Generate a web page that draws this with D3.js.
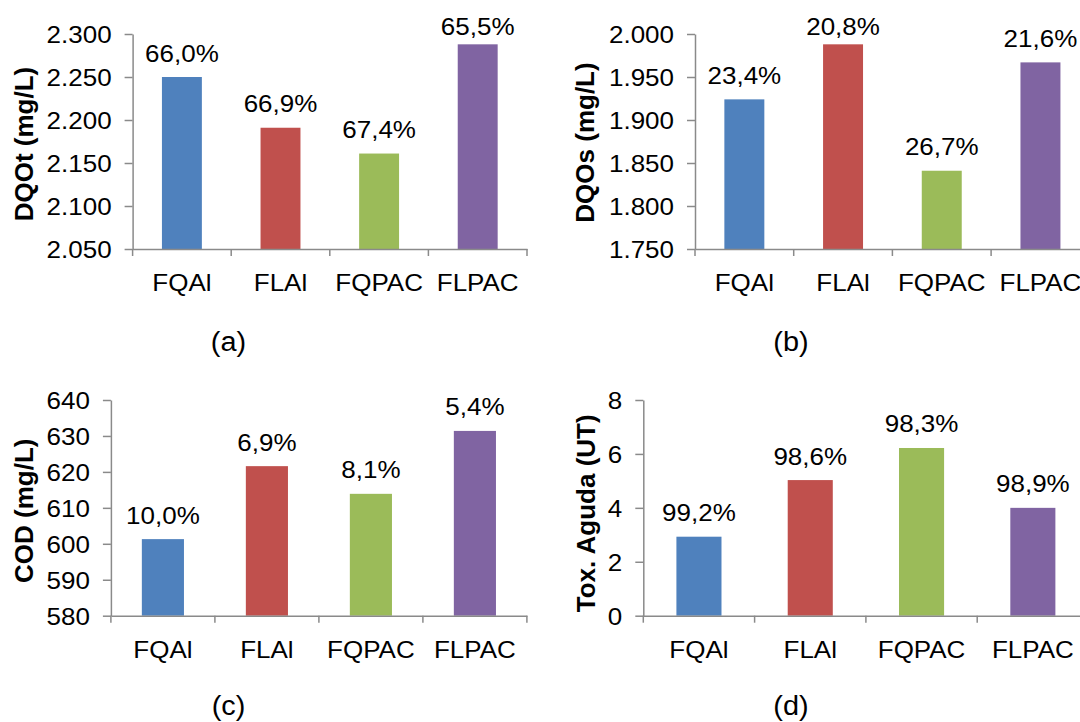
<!DOCTYPE html>
<html><head><meta charset="utf-8">
<script src="https://cdn.jsdelivr.net/npm/d3@7"></script>
<style>html,body{margin:0;padding:0;background:#fff;overflow:hidden}</style>
</head><body>
<svg id="chart" width="1080" height="722"></svg>
<script>
// ---- data ----
const categories = ["FQAl", "FLAl", "FQPAC", "FLPAC"];
const colors = ["#4F81BD", "#C0504D", "#9BBB59", "#8064A2"];

const dqotValues = [2250, 2191, 2161, 2288];
const dqotLabels = ["66,0%", "66,9%", "67,4%", "65,5%"];
const dqotTicks = [2050, 2100, 2150, 2200, 2250, 2300];

const dqosValues = [1924, 1988, 1841, 1967];
const dqosLabels = ["23,4%", "20,8%", "26,7%", "21,6%"];
const dqosTicks = [1750, 1800, 1850, 1900, 1950, 2000];

const codValues = [601.3, 621.6, 613.9, 631.4];
const codLabels = ["10,0%", "6,9%", "8,1%", "5,4%"];
const codTicks = [580, 590, 600, 610, 620, 630, 640];

const toxValues = [2.93, 5.03, 6.22, 4.0];
const toxLabels = ["99,2%", "98,6%", "98,3%", "98,9%"];
const toxTicks = [0, 2, 4, 6, 8];

const titles = ["DQOt (mg/L)", "DQOs (mg/L)", "COD (mg/L)", "Tox. Aguda (UT)"];
const captions = ["(a)", "(b)", "(c)", "(d)"];

// ---- layout ----
const layouts = [
  {x0: 132.6, step: 98.6, yb: 249, yt: 34, tx: 32.7, ty: 144, cx: 228.5, cy: 351},
  {x0: 695.0, step: 98.7, yb: 249, yt: 34, tx: 594.4, ty: 142.5, cx: 791, cy: 351},
  {x0: 110.9, step: 104.0, yb: 615.7, yt: 400, tx: 32.7, ty: 510.8, cx: 228.5, cy: 715},
  {x0: 643.3, step: 111.3, yb: 615.7, yt: 400, tx: 595, ty: 513.3, cx: 791, cy: 715}
];

const panels = [
  {values: dqotValues, labels: dqotLabels, ticks: dqotTicks},
  {values: dqosValues, labels: dqosLabels, ticks: dqosTicks},
  {values: codValues, labels: codLabels, ticks: codTicks},
  {values: toxValues, labels: toxLabels, ticks: toxTicks}
];

const FONT = "'Liberation Sans', Arial, sans-serif";
const SX = 1.07;
const FS = 24.3;
const AXIS = "#8a8a8a";
const locale = d3.formatLocale({decimal: ",", thousands: ".", grouping: [3], currency: ["", ""]});
const fmt = locale.format(",d");

const svg = d3.select("#chart");

function label(g, x, y, str, size) {
  return g.append("text")
    .attr("transform", `translate(${x},${y}) scale(${SX},1)`)
    .attr("text-anchor", "middle")
    .attr("font-family", FONT)
    .attr("font-size", size || FS)
    .attr("fill", "#000")
    .text(str);
}

panels.forEach((p, i) => {
  const L = layouts[i];
  const g = svg.append("g");
  const x = d3.scaleBand().domain(categories).range([L.x0, L.x0 + L.step * categories.length]).padding(0);
  const y = d3.scaleLinear().domain([p.ticks[0], p.ticks[p.ticks.length - 1]]).range([L.yb, L.yt]);
  const bw = x.bandwidth() * 0.405;

  // bars
  g.selectAll("rect.bar").data(p.values).join("rect")
    .attr("class", "bar")
    .attr("x", (d, j) => x(categories[j]) + x.bandwidth() / 2 - bw / 2)
    .attr("y", d => y(d))
    .attr("width", bw)
    .attr("height", d => L.yb - y(d))
    .attr("fill", (d, j) => colors[j]);

  // y axis
  const ya = g.append("g").attr("transform", `translate(${L.x0},0)`)
    .call(d3.axisLeft(y).tickValues(p.ticks).tickFormat(fmt).tickSize(8).tickSizeOuter(0));
  ya.select(".domain").attr("stroke", AXIS).attr("stroke-width", 1.5);
  ya.selectAll(".tick line").attr("stroke", AXIS).attr("stroke-width", 1.5);
  ya.selectAll(".tick text")
    .attr("x", -21 / SX).attr("dy", "0.36em")
    .attr("transform", `scale(${SX},1)`)
    .attr("font-family", FONT).attr("font-size", FS).attr("fill", "#000");

  // x axis (category labels)
  const xa = g.append("g").attr("transform", `translate(0,${L.yb})`)
    .call(d3.axisBottom(x).tickSize(0).tickSizeOuter(0).tickPadding(0));
  xa.select(".domain").attr("stroke", AXIS).attr("stroke-width", 1.5);
  xa.selectAll(".tick text").each(function() {
    d3.select(this).attr("y", null).attr("dy", null)
      .attr("transform", `translate(0,42) scale(${SX},1)`)
      .attr("font-family", FONT).attr("font-size", FS).attr("fill", "#000");
  });
  // boundary tick marks between categories
  const bounds = categories.map(c => x(c)).concat([x.range()[1]]);
  g.selectAll("line.bt").data(bounds).join("line")
    .attr("class", "bt")
    .attr("x1", d => d).attr("x2", d => d)
    .attr("y1", L.yb).attr("y2", L.yb + 7)
    .attr("stroke", AXIS).attr("stroke-width", 1.5);

  // value labels
  p.values.forEach((v, j) => {
    const cx = x(categories[j]) + x.bandwidth() / 2;
    const by = Math.max(y(v) - 15.5, L.yt + 0.5);
    label(g, cx, by, p.labels[j]);
  });

  // axis title
  g.append("text")
    .attr("transform", `translate(${L.tx},${L.ty}) rotate(-90)`)
    .attr("text-anchor", "middle")
    .attr("font-family", FONT).attr("font-size", 26).attr("font-weight", "bold")
    .attr("fill", "#000")
    .text(titles[i]);

  // caption
  label(g, L.cx, L.cy, captions[i], 27);
});
</script>
</body></html>
